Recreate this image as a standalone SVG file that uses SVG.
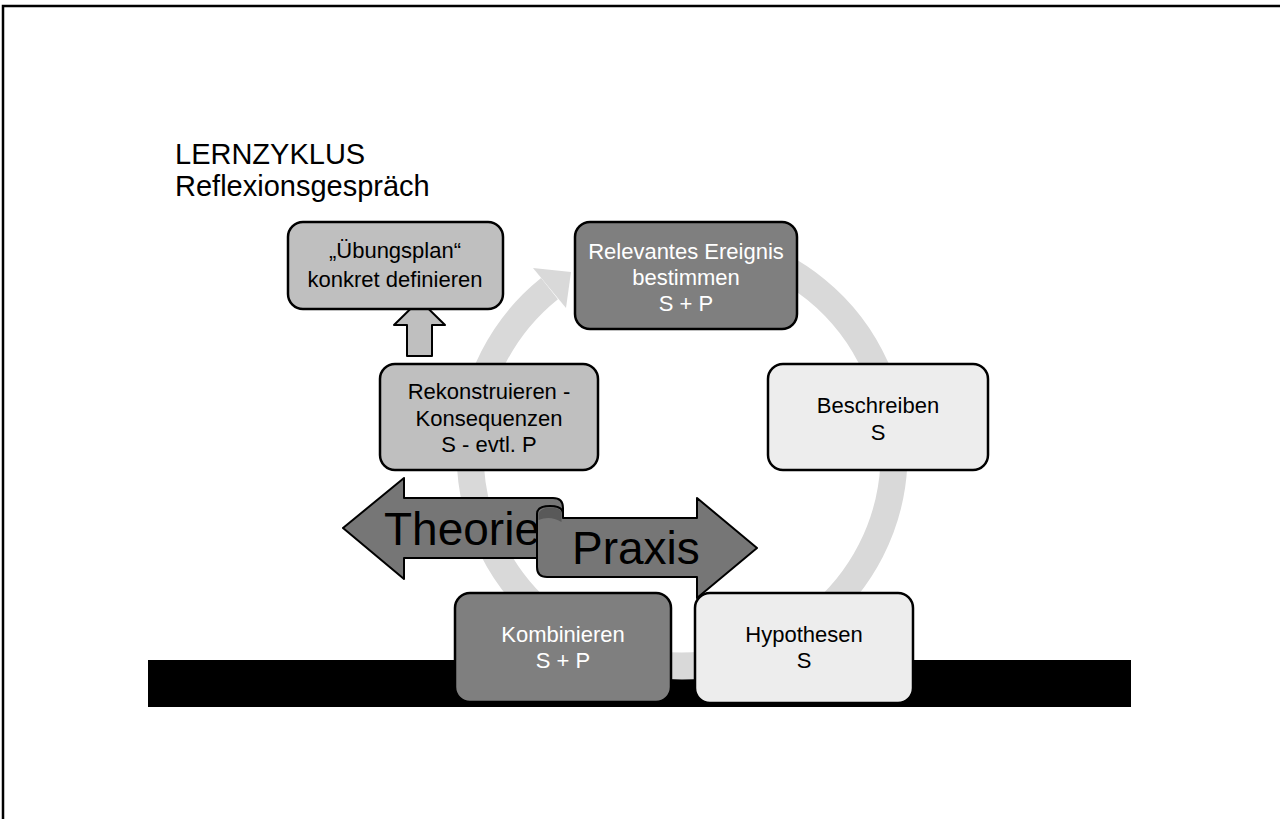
<svg xmlns="http://www.w3.org/2000/svg" width="1280" height="819" viewBox="0 0 1280 819">
<style>
.box{stroke:#000;stroke-width:2.5}
.mid{fill:#bfbfbf}
.dark{fill:#7f7f7f}
.light{fill:#ededed}
.t{font-family:"Liberation Sans",Arial,sans-serif;font-size:22px;text-anchor:middle;fill:#000}
.w{fill:#fff}
.big{font-family:"Liberation Sans",Arial,sans-serif;font-size:46px;fill:#000}
.ttl{font-family:"Liberation Sans",Arial,sans-serif;font-size:29px;fill:#000}
.arr{fill:#767676;stroke:#000;stroke-width:2;stroke-linejoin:round}
</style>
<rect width="1280" height="819" fill="#fff"/>
<g id="frame">
<path d="M3 819 L3 6 L1280 6" fill="none" stroke="#000" stroke-width="2.5"/>
</g>
<g id="title">
<text class="ttl" x="175" y="164">LERNZYKLUS</text>
<text class="ttl" x="175" y="196">Reflexionsgespräch</text>
</g>
<rect id="bar" x="148" y="660" width="983" height="47" fill="#000"/>
<g id="connectors">
<path id="cycle" d="M736.9 249.2 A212 212 0 1 1 549.5 288.6" fill="none" stroke="#d9d9d9" stroke-width="27"/>
<polygon points="533,268 566,308 571,272" fill="#d9d9d9"/>
<path id="up-arrow" d="M407 356 L407 325 L394 325 L419.5 300 L445 325 L432 325 L432 356 Z" fill="#bfbfbf" stroke="#000" stroke-width="2" stroke-linejoin="round"/>
</g>
<g id="n-uebungsplan">
<rect class="box mid" x="288" y="222" width="215" height="87" rx="15"/>
<text class="t" x="395" y="258">„Übungsplan“</text>
<text class="t" x="395" y="287">konkret definieren</text>
</g>
<g id="n-relevantes">
<rect class="box dark" x="575" y="222" width="222" height="107" rx="15"/>
<text class="t w" x="686" y="259">Relevantes Ereignis</text>
<text class="t w" x="686" y="285">bestimmen</text>
<text class="t w" x="686" y="311">S + P</text>
</g>
<g id="n-beschreiben">
<rect class="box light" x="768" y="364" width="220" height="106" rx="15"/>
<text class="t" x="878" y="413">Beschreiben</text>
<text class="t" x="878" y="440">S</text>
</g>
<g id="n-hypothesen">
<rect class="box light" x="695" y="593" width="218" height="110" rx="15"/>
<text class="t" x="804" y="642">Hypothesen</text>
<text class="t" x="804" y="668">S</text>
</g>
<g id="n-kombinieren">
<rect class="box dark" x="455" y="593" width="216" height="109" rx="15"/>
<text class="t w" x="563" y="642">Kombinieren</text>
<text class="t w" x="563" y="668">S + P</text>
</g>
<g id="n-rekonstruieren">
<rect class="box mid" x="380" y="364" width="218" height="106" rx="15"/>
<text class="t" x="489" y="399">Rekonstruieren -</text>
<text class="t" x="489" y="426">Konsequenzen</text>
<text class="t" x="489" y="452">S - evtl. P</text>
</g>
<g id="theorie">
<path class="arr" d="M343 528 L404 478 L404 498 L553 498 Q563 498 563 508 L563 558 L404 558 L404 579 Z"/>
<text class="big" x="384" y="545">Theorie</text>
</g>
<g id="praxis">
<path class="arr" d="M563 518 L697 518 L697 498 L757 548 L697 598 L697 577 L547 577 Q537 577 537 567 L537 514 Q537 506 550 506 Q563 506 563 514 Z"/>
<path d="M538.5 514 Q540 508 550 507.5 Q561.5 507.5 561.5 514 L561.5 522 Q550 515 538.5 520 Z" fill="#595959"/>
<text class="big" x="572" y="564" font-size="42">Praxis</text>
</g>
</svg>
